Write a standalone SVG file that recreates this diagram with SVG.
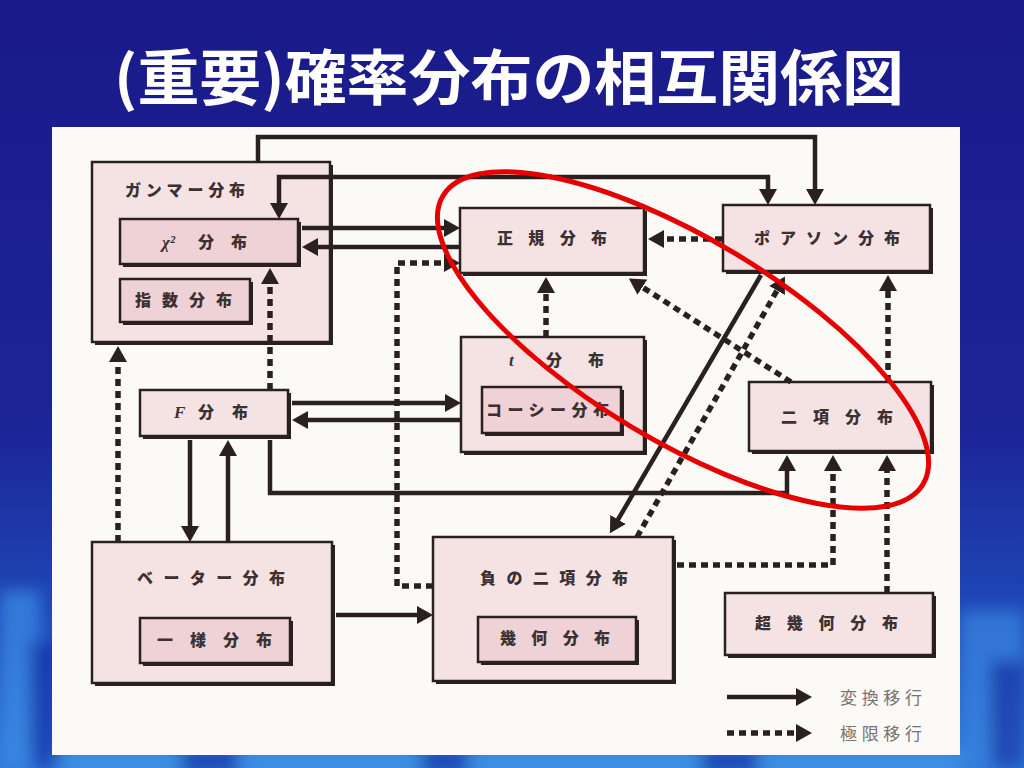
<svg xmlns="http://www.w3.org/2000/svg" width="1024" height="768" viewBox="0 0 1024 768">
<defs>
  <linearGradient id="bg" x1="0" y1="0" x2="0" y2="1">
    <stop offset="0" stop-color="#1a1a8a"/>
    <stop offset="0.55" stop-color="#1c2496"/>
    <stop offset="0.8" stop-color="#1f48b8"/>
    <stop offset="1" stop-color="#2f78d8"/>
  </linearGradient>
  <filter id="blur" x="-20%" y="-20%" width="140%" height="140%">
    <feGaussianBlur stdDeviation="8"/>
  </filter>
  <marker id="ah" viewBox="0 0 16 18" refX="4" refY="9" markerWidth="16" markerHeight="18" markerUnits="userSpaceOnUse" orient="auto-start-reverse">
    <path d="M0,0 L16,9 L0,18 z" fill="#2b2020"/>
  </marker>
  <style>
    .title{font-family:"Noto Sans CJK JP","Noto Sans CJK SC",sans-serif;font-weight:700;font-size:60px;fill:#ffffff}
    .outer{fill:#f5e3e4;stroke:#2b2020;stroke-width:2.5}
    .inner{fill:#efd2d5;stroke:#2b2020;stroke-width:2.5}
    .shadow{fill:#2b2020}
    .lbl{font-family:"Noto Sans CJK JP","Noto Sans CJK SC",sans-serif;font-weight:900;font-size:16px;fill:#3b3133}
    .it{font-family:"Liberation Serif",serif;font-style:italic;font-weight:700;font-size:17px}
    .leg{font-family:"Noto Sans CJK JP","Noto Sans CJK SC",sans-serif;font-size:17px;fill:#7a7272}
    .solid{fill:none;stroke:#2b2020;stroke-width:4.5;marker-end:url(#ah)}
    .dot{fill:none;stroke:#2b2020;stroke-width:5.5;stroke-dasharray:7 5;marker-end:url(#ah)}
  </style>
</defs>

<!-- background -->
<rect x="0" y="0" width="1024" height="768" fill="url(#bg)"/>
<g filter="url(#blur)" opacity="0.7">
  <rect x="0" y="590" width="40" height="178" fill="#3d8ee6"/>
  <rect x="30" y="640" width="30" height="128" fill="#1632a8"/>
  <rect x="960" y="610" width="64" height="158" fill="#3a86e0"/>
  <rect x="990" y="660" width="34" height="108" fill="#1a3aac"/>
  <rect x="60" y="752" width="900" height="20" fill="#4aa0ee"/>
  <rect x="180" y="752" width="60" height="20" fill="#1830a0"/>
  <rect x="420" y="752" width="50" height="20" fill="#1830a0"/>
  <rect x="700" y="752" width="60" height="20" fill="#1830a0"/>
</g>

<!-- title -->
<text class="title" x="114" y="100" textLength="790" lengthAdjust="spacingAndGlyphs">(重要)確率分布の相互関係図</text>

<!-- white panel -->
<rect x="52" y="127" width="908" height="628" fill="#fbfaf6"/>

<!-- nodes -->
<g id="gamma">
  <rect class="shadow" x="95" y="165" width="238" height="180"/>
  <rect class="outer" x="92" y="162" width="238" height="180"/>
  <text class="lbl" x="125" y="196" textLength="120" lengthAdjust="spacing">ガンマー分布</text>
</g>
<g id="chi2">
  <rect class="shadow" x="123" y="222" width="178" height="45"/>
  <rect class="inner" x="120" y="219" width="178" height="45"/>
  <text class="lbl" y="248"><tspan class="it" x="162">χ²</tspan><tspan x="198">分</tspan><tspan x="231">布</tspan></text>
</g>
<g id="exponential">
  <rect class="shadow" x="123" y="282" width="130" height="43"/>
  <rect class="inner" x="120" y="279" width="130" height="43"/>
  <text class="lbl" x="135" y="306" textLength="97" lengthAdjust="spacing">指数分布</text>
</g>
<g id="f">
  <rect class="shadow" x="143" y="393" width="148" height="46"/>
  <rect class="outer" x="140" y="390" width="148" height="46"/>
  <text class="lbl" y="418"><tspan class="it" x="174">F</tspan><tspan x="198">分</tspan><tspan x="232">布</tspan></text>
</g>
<g id="normal">
  <rect class="shadow" x="463" y="211" width="184" height="65"/>
  <rect class="outer" x="460" y="208" width="184" height="65"/>
  <text class="lbl" x="497" y="244" textLength="110" lengthAdjust="spacing">正規分布</text>
</g>
<g id="poisson">
  <rect class="shadow" x="726" y="208" width="207" height="66"/>
  <rect class="outer" x="723" y="205" width="207" height="66"/>
  <text class="lbl" x="754" y="244" textLength="146" lengthAdjust="spacing">ポアソン分布</text>
</g>
<g id="t">
  <rect class="shadow" x="464" y="340" width="183" height="115"/>
  <rect class="outer" x="461" y="337" width="183" height="115"/>
  <text class="lbl" y="366"><tspan class="it" x="509">t</tspan><tspan x="546">分</tspan><tspan x="588">布</tspan></text>
</g>
<g id="cauchy">
  <rect class="shadow" x="485" y="390" width="139" height="46"/>
  <rect class="inner" x="482" y="387" width="139" height="46"/>
  <text class="lbl" x="486" y="416" textLength="123" lengthAdjust="spacing">コーシー分布</text>
</g>
<g id="binomial">
  <rect class="shadow" x="752" y="385" width="182" height="69"/>
  <rect class="outer" x="749" y="382" width="182" height="69"/>
  <text class="lbl" x="781" y="423" textLength="112" lengthAdjust="spacing">二項分布</text>
</g>
<g id="beta">
  <rect class="shadow" x="95" y="545" width="240" height="141"/>
  <rect class="outer" x="92" y="542" width="240" height="141"/>
  <text class="lbl" x="137" y="584" textLength="148" lengthAdjust="spacing">ベーター分布</text>
</g>
<g id="uniform">
  <rect class="shadow" x="143" y="621" width="150" height="45"/>
  <rect class="inner" x="140" y="618" width="150" height="45"/>
  <text class="lbl" x="157" y="646" textLength="115" lengthAdjust="spacing">一様分布</text>
</g>
<g id="negbinomial">
  <rect class="shadow" x="436" y="540" width="240" height="144"/>
  <rect class="outer" x="433" y="537" width="240" height="144"/>
  <text class="lbl" x="480" y="584" textLength="148" lengthAdjust="spacing">負の二項分布</text>
</g>
<g id="geometric">
  <rect class="shadow" x="481" y="620" width="158" height="45"/>
  <rect class="inner" x="478" y="617" width="158" height="45"/>
  <text class="lbl" x="500" y="644" textLength="110" lengthAdjust="spacing">幾何分布</text>
</g>
<g id="hypergeometric">
  <rect class="shadow" x="728" y="596" width="208" height="62"/>
  <rect class="outer" x="725" y="593" width="208" height="62"/>
  <text class="lbl" x="755" y="629" textLength="143" lengthAdjust="spacing">超幾何分布</text>
</g>

<!-- connectors -->
<g id="connectors">
  <path class="solid" d="M258,162 V137 H815 V193"/>
  <path class="solid" d="M768,193 V177 H279 V207" style="marker-start:url(#ah)"/>
  <path class="solid" d="M302,228 H448"/>
  <path class="solid" d="M460,247 H314"/>
  <path class="dot" d="M433,586 H397 V263 H448"/>
  <path class="dot" d="M722,239 H660"/>
  <path class="dot" d="M546,337 V289"/>
  <path class="dot" d="M791,382 L639,285"/>
  <path class="solid" d="M761,275 L616,523"/>
  <path class="dot" d="M637,537 L779,287"/>
  <path class="solid" d="M292,403 H449"/>
  <path class="solid" d="M461,420 H304"/>
  <path class="dot" d="M270,390 V280"/>
  <path class="dot" d="M118,542 V358"/>
  <path class="solid" d="M190,440 V530"/>
  <path class="solid" d="M228,542 V452"/>
  <path class="solid" d="M270,440 V493 H787 V467"/>
  <path class="solid" d="M336,615 H421"/>
  <path class="dot" d="M677,565 H833 V467"/>
  <path class="dot" d="M887,593 V467"/>
  <path class="dot" d="M888,382 V287"/>
</g>

<!-- legend -->
<g id="legend">
  <path class="solid" d="M727,697 H800"/>
  <text class="leg" x="840" y="704" textLength="82" lengthAdjust="spacing">変換移行</text>
  <path class="dot" d="M727,733 H800"/>
  <text class="leg" x="840" y="740" textLength="82" lengthAdjust="spacing">極限移行</text>
</g>

<!-- red highlight ellipse -->
<ellipse cx="683" cy="340" rx="280" ry="101" transform="rotate(31 683 340)" fill="none" stroke="#e60000" stroke-width="5"/>
</svg>
